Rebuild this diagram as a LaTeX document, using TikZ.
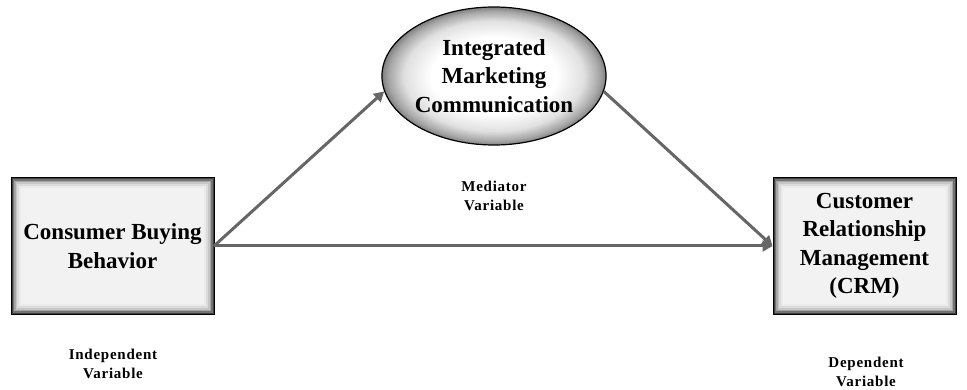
\documentclass[tikz,border=0pt]{standalone}
\usepackage{fontspec}
\setmainfont{Liberation Serif}
\usetikzlibrary{arrows.meta,shapes.geometric}
\pgfdeclareradialshading{ellshade}{\pgfpoint{0bp}{0bp}}{color(0bp)=(white); color(14bp)=(white); color(20bp)=(black!12); color(23.5bp)=(black!35); color(25bp)=(black!50); color(50bp)=(black!50)}
\begin{document}
\begin{tikzpicture}[x=1pt,y=-1pt,
  boxtext/.style={font=\fontsize{23}{28.5}\selectfont\bfseries,align=center},
  lbl/.style={font=\fontsize{15}{19}\selectfont\bfseries\addfontfeature{LetterSpace=5},align=center},
  conn/.style={draw=black!60,line width=3pt,-{Triangle[length=10pt,width=11pt]}}]
\useasboundingbox (0,0) rectangle (967,390);
% left box
\fill[black!75] (11,178) rectangle (214,314);
\foreach \i/\c in {1.5/55,3/35,4.5/22,6/14,8/8,10/5}{
  \fill[black!\c] (11+\i,178+\i) rectangle (214-\i,314-\i);}
\node[draw=black,line width=1pt,minimum width=203pt,minimum height=136pt] (cbb) at (112.5,246) {};
\node[boxtext] at (cbb.center) {Consumer Buying\\Behavior};
% right box
\fill[black!75] (773,178) rectangle (956,314);
\foreach \i/\c in {1.5/55,3/35,4.5/22,6/14,8/8,10/5}{
  \fill[black!\c] (773+\i,178+\i) rectangle (956-\i,314-\i);}
\node[draw=black,line width=1pt,minimum width=183pt,minimum height=136pt] (crm) at (864.5,246) {};
\node[boxtext] at (crm.center) {Customer\\Relationship\\Management\\(CRM)};
% ellipse
\node[ellipse,draw=black,line width=1.2pt,minimum width=218pt,minimum height=138pt,
  shading=ellshade,boxtext,inner sep=0pt] (imc) at (494,76)
  {Integrated\\Marketing\\Communication};
% connectors
\coordinate (a1) at (214,246);
\draw[conn] (a1) -- (imc.188);
\draw[conn] (imc.-8) -- (crm.west);
\draw[conn] (a1) -- (crm.west);
% labels
\node[lbl] (l1) at (113,364) {Independent\\Variable};
\node[lbl] (l2) at (494,196) {Mediator\\Variable};
\node[lbl] (l3) at (866,372) {Dependent\\Variable};
\end{tikzpicture}
\end{document}
